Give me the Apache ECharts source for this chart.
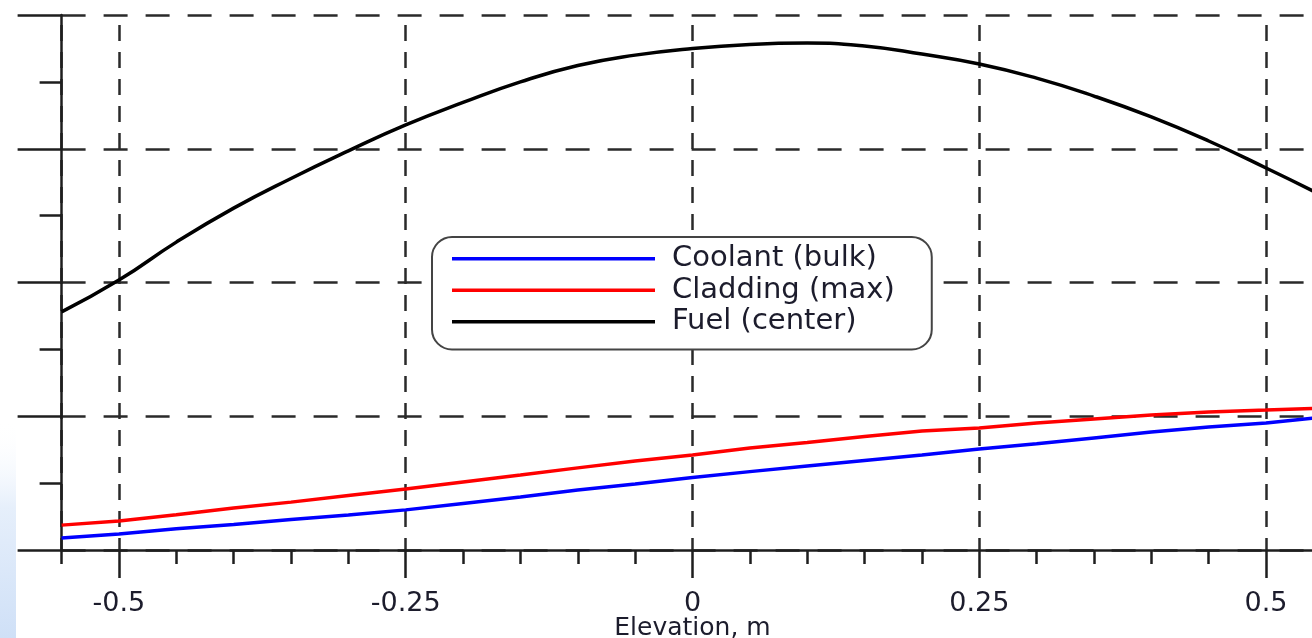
<!DOCTYPE html>
<html>
<head>
<meta charset="utf-8">
<script src="https://cdn.jsdelivr.net/npm/echarts@6/dist/echarts.min.js"></script>
<style>
  html, body { margin: 0; padding: 0; background: #fff; }
  #chart { width: 1312px; height: 638px; }
</style>
</head>
<body>
<div id="chart"></div>
<script>
// elevation along the rod, m
const elevations = [-0.55, -0.5, -0.45, -0.4, -0.35, -0.3, -0.25, -0.2, -0.15, -0.1, -0.05,
  0, 0.05, 0.1, 0.15, 0.2, 0.25, 0.3, 0.35, 0.4, 0.45, 0.5, 0.55];
// temperatures (y labels are cut off in the original)
const coolant = [45, 60, 79, 95, 114, 131, 150, 174, 198, 224, 247,
  271, 293, 314, 335, 355, 378, 397, 419, 441, 460, 475, 497];
const cladding = [93, 108, 132, 157, 179, 204, 228, 254, 280, 307, 333,
  355, 381, 402, 424, 445, 456, 475, 490, 505, 516, 523, 531];
const fuel = [890, 1009, 1151, 1278, 1389, 1492, 1589, 1673, 1750, 1811, 1850,
  1875, 1890, 1895, 1884, 1854, 1817, 1764, 1697, 1619, 1529, 1428, 1323];
const seriesNames = ['Coolant (bulk)', 'Cladding (max)', 'Fuel (center)'];

const pairs = (ys) => elevations.map((x, i) => [x, ys[i]]);

const chart = echarts.init(document.getElementById('chart'));

const axisColor = '#1e1e1e';
const fontFamily = 'DejaVu Sans';

const option = {
    animation: false,
    backgroundColor: '#fff',
    grid: {
        left: 61.6,
        right: -11.4,
        top: 15,
        bottom: 88,
        containLabel: false,
        outerBoundsMode: 'none',
    },
    legend: {
        data: seriesNames,
        orient: 'vertical',
        left: 432,
        top: 237,
        icon: 'rect',
        itemWidth: 203,
        itemHeight: 3.5,
        itemGap: 0,
        padding: [6, 37, 12, 20],
        borderColor: '#444',
        borderWidth: 2,
        borderRadius: 20,
        backgroundColor: '#fff',
        textStyle: {
            fontFamily: fontFamily,
            fontSize: 29,
            lineHeight: 31.5,
            color: '#1c1c2c',
            padding: [0, 0, 0, 12],
        },
    },
    xAxis: [
        {
            type: 'value',
            min: -0.55,
            max: 0.55,
            minInterval: 0.25,
            maxInterval: 0.25,
            name: 'Elevation, m',
            nameLocation: 'middle',
            nameGap: 66,
            nameMoveOverlap: false,
            nameTextStyle: {
                fontFamily: fontFamily,
                fontSize: 25,
                color: '#1c1c2c',
            },
            axisLine: { show: true, onZero: false, lineStyle: { color: axisColor, width: 2.5 } },
            axisTick: { show: true, length: 28, lineStyle: { color: axisColor, width: 2.5 } },
            axisLabel: {
                showMinLabel: false,
                showMaxLabel: false,
                margin: 40,
                fontFamily: fontFamily,
                fontSize: 27,
                color: '#1c1c2c',
            },
            splitLine: {
                show: true,
                lineStyle: { color: '#2a2a2a', width: 2.5, type: [16, 11], dashOffset: 17 },
            },
        },
        {
            // minor ticks every 0.05
            type: 'value',
            min: -0.55,
            max: 0.55,
            interval: 0.05,
            position: 'bottom',
            axisLine: { show: false },
            axisTick: { show: true, length: 14, lineStyle: { color: axisColor, width: 2.5 } },
            axisLabel: { show: false },
            splitLine: { show: false },
        },
    ],
    yAxis: {
        type: 'value',
        min: 0,
        max: 2000,
        interval: 500,
        axisLine: { show: true, onZero: false, lineStyle: { color: axisColor, width: 2.5 } },
        axisTick: { show: true, length: 44, lineStyle: { color: axisColor, width: 2.5 } },
        minorTick: { show: true, splitNumber: 2, length: 22, lineStyle: { color: axisColor, width: 2.5 } },
        axisLabel: { show: false },
        splitLine: {
            show: true,
            lineStyle: { color: '#2a2a2a', width: 2.5, type: [24, 18] },
        },
    },
    graphic: [
        {
            type: 'rect',
            left: 0,
            top: 420,
            z: 100,
            shape: { width: 16, height: 218 },
            style: {
                fill: new echarts.graphic.LinearGradient(0, 0, 0, 1, [
                    { offset: 0, color: 'rgba(255,255,255,0)' },
                    { offset: 0.4, color: '#e6effb' },
                    { offset: 1, color: '#cfe0f7' },
                ]),
            },
        },
    ],
    series: [
        {
            name: seriesNames[0],
            type: 'line',
            showSymbol: false,
            color: '#0000ff',
            lineStyle: { width: 3.5 },
            data: pairs(coolant),
        },
        {
            name: seriesNames[1],
            type: 'line',
            showSymbol: false,
            color: '#ff0000',
            lineStyle: { width: 3.5 },
            data: pairs(cladding),
        },
        {
            name: seriesNames[2],
            type: 'line',
            showSymbol: false,
            smooth: 0.5,
            color: '#000000',
            lineStyle: { width: 3.5 },
            data: pairs(fuel),
        },
    ],
};

chart.setOption(option);
</script>
</body>
</html>
